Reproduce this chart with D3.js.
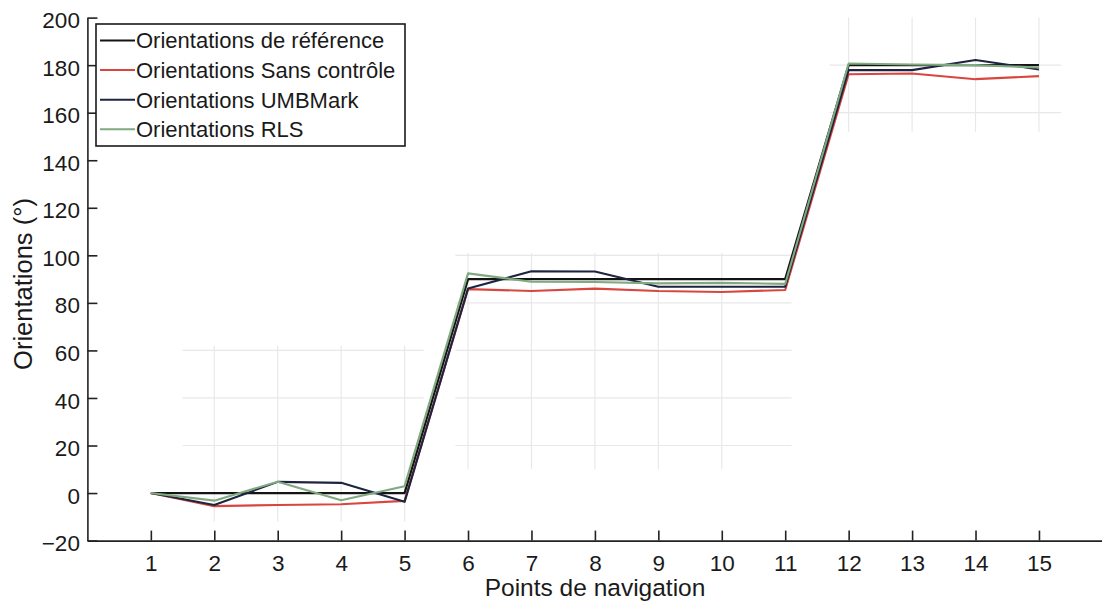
<!DOCTYPE html>
<html>
<head>
<meta charset="utf-8">
<script src="https://cdn.jsdelivr.net/npm/d3@7"></script>
<style>
  html, body { margin: 0; padding: 0; background: #fff; }
  svg { display: block; }
  text { font-family: "Liberation Sans", Arial, sans-serif; fill: #1a1a1a; }
</style>
</head>
<body>
<svg id="chart" width="1102" height="612"></svg>
<script>
// ---- data ----
const points = [1, 2, 3, 4, 5, 6, 7, 8, 9, 10, 11, 12, 13, 14, 15];
const reference    = [0, 0, 0, 0, 0, 90, 90, 90, 90, 90, 90, 180, 180, 180, 180];
const sansControle = [0, -5.5, -5, -4.7, -3.3, 85.8, 85, 86, 85, 84.6, 85.4, 176.2, 176.5, 174.1, 175.4];
const umbmark      = [0, -5, 4.7, 4.3, -3.7, 86, 93.3, 93.2, 86.8, 86.8, 86.8, 177.9, 177.9, 182.2, 178.2];
const rls          = [0, -3.2, 4.8, -3, 2.9, 92.4, 88.9, 88.8, 88.2, 88.4, 88, 180.7, 180.3, 180, 179];
const seriesNames  = ["Orientations de référence", "Orientations Sans contrôle", "Orientations UMBMark", "Orientations RLS"];
const xTicks = [1, 2, 3, 4, 5, 6, 7, 8, 9, 10, 11, 12, 13, 14, 15];
const yTicks = [-20, 0, 20, 40, 60, 80, 100, 120, 140, 160, 180, 200];
const xLabel = "Points de navigation";
const yLabel = "Orientations (°)";

// ---- drawing ----
const colors = ["#141414", "#d9463f", "#1d2440", "#7fa97f"];
const allSeries = [reference, sansControle, umbmark, rls];

const svg = d3.select("#chart");
svg.append("rect").attr("width", 1102).attr("height", 612).attr("fill", "#fff");

const x = d3.scaleLinear().domain([0, 16]).range([87.4, 1102.4]);
const y = d3.scaleLinear().domain([-20, 200]).range([540.6, 17.6]);

// faint partial grid remnants (as in the scanned figure)
const gridPatches = [
  { xs: [2, 3, 4, 5], ys: [60, 40, 20], x0: 1.5, x1: 5.3, y0: -12, y1: 62 },
  { xs: [6, 7, 8, 9, 10], ys: [100, 80, 60, 40, 20], x0: 5.8, x1: 11.1, y0: 10, y1: 101 },
  { xs: [12, 13, 14, 15], ys: [180, 160], x0: 11.7, x1: 15.35, y0: 152, y1: 200 }
];
const grid = svg.append("g").attr("stroke", "#e8e8e8").attr("stroke-width", 1.2);
gridPatches.forEach(p => {
  p.xs.forEach(v => grid.append("line")
    .attr("x1", x(v)).attr("x2", x(v)).attr("y1", y(p.y0)).attr("y2", y(p.y1)));
  p.ys.forEach(v => grid.append("line")
    .attr("x1", x(p.x0)).attr("x2", x(p.x1)).attr("y1", y(v)).attr("y2", y(v)));
});

// axes
const xAxis = d3.axisBottom(x).tickValues(xTicks).tickSizeInner(-10).tickSizeOuter(0).tickPadding(14);
const yAxis = d3.axisLeft(y).tickValues(yTicks).tickSizeInner(-10).tickSizeOuter(0).tickPadding(7.5);

const gx = svg.append("g").attr("transform", `translate(0,${y(-20)})`).call(xAxis);
const gy = svg.append("g").attr("transform", `translate(${x(0)},0)`).call(yAxis);
[gx, gy].forEach(g => {
  g.select(".domain").attr("stroke", "#222").attr("stroke-width", 1.6);
  g.selectAll(".tick line").attr("stroke", "#222").attr("stroke-width", 1.6);
  g.selectAll(".tick text").attr("font-size", 22.5).attr("fill", "#1a1a1a")
    .attr("font-family", "'Liberation Sans', Arial, sans-serif");
});
gy.selectAll(".tick text").attr("dy", "0.45em");

// axis titles
svg.append("text").attr("x", 595).attr("y", 596).attr("text-anchor", "middle")
  .attr("font-size", 24.5).text(xLabel);
svg.append("text").attr("transform", `translate(32,284) rotate(-90)`).attr("text-anchor", "middle")
  .attr("font-size", 25.5).text(yLabel);

// lines
const line = d3.line().x((d, i) => x(points[i])).y(d => y(d));
allSeries.forEach((s, k) => {
  svg.append("path").datum(s).attr("d", line)
    .attr("fill", "none").attr("stroke", colors[k])
    .attr("stroke-width", k === 0 ? 2.3 : 2.1).attr("stroke-linejoin", "round");
});

// legend
const lg = svg.append("g");
lg.append("rect").attr("x", 96).attr("y", 24).attr("width", 309).attr("height", 122)
  .attr("fill", "#fff").attr("stroke", "#1a1a1a").attr("stroke-width", 1.6);
seriesNames.forEach((name, k) => {
  const cy = 40.5 + k * 29.6;
  lg.append("line").attr("x1", 100).attr("x2", 135).attr("y1", cy).attr("y2", cy)
    .attr("stroke", colors[k]).attr("stroke-width", 2);
  lg.append("text").attr("x", 136).attr("y", cy).attr("dy", "0.36em")
    .attr("font-size", 22).text(name);
});
</script>
</body>
</html>
